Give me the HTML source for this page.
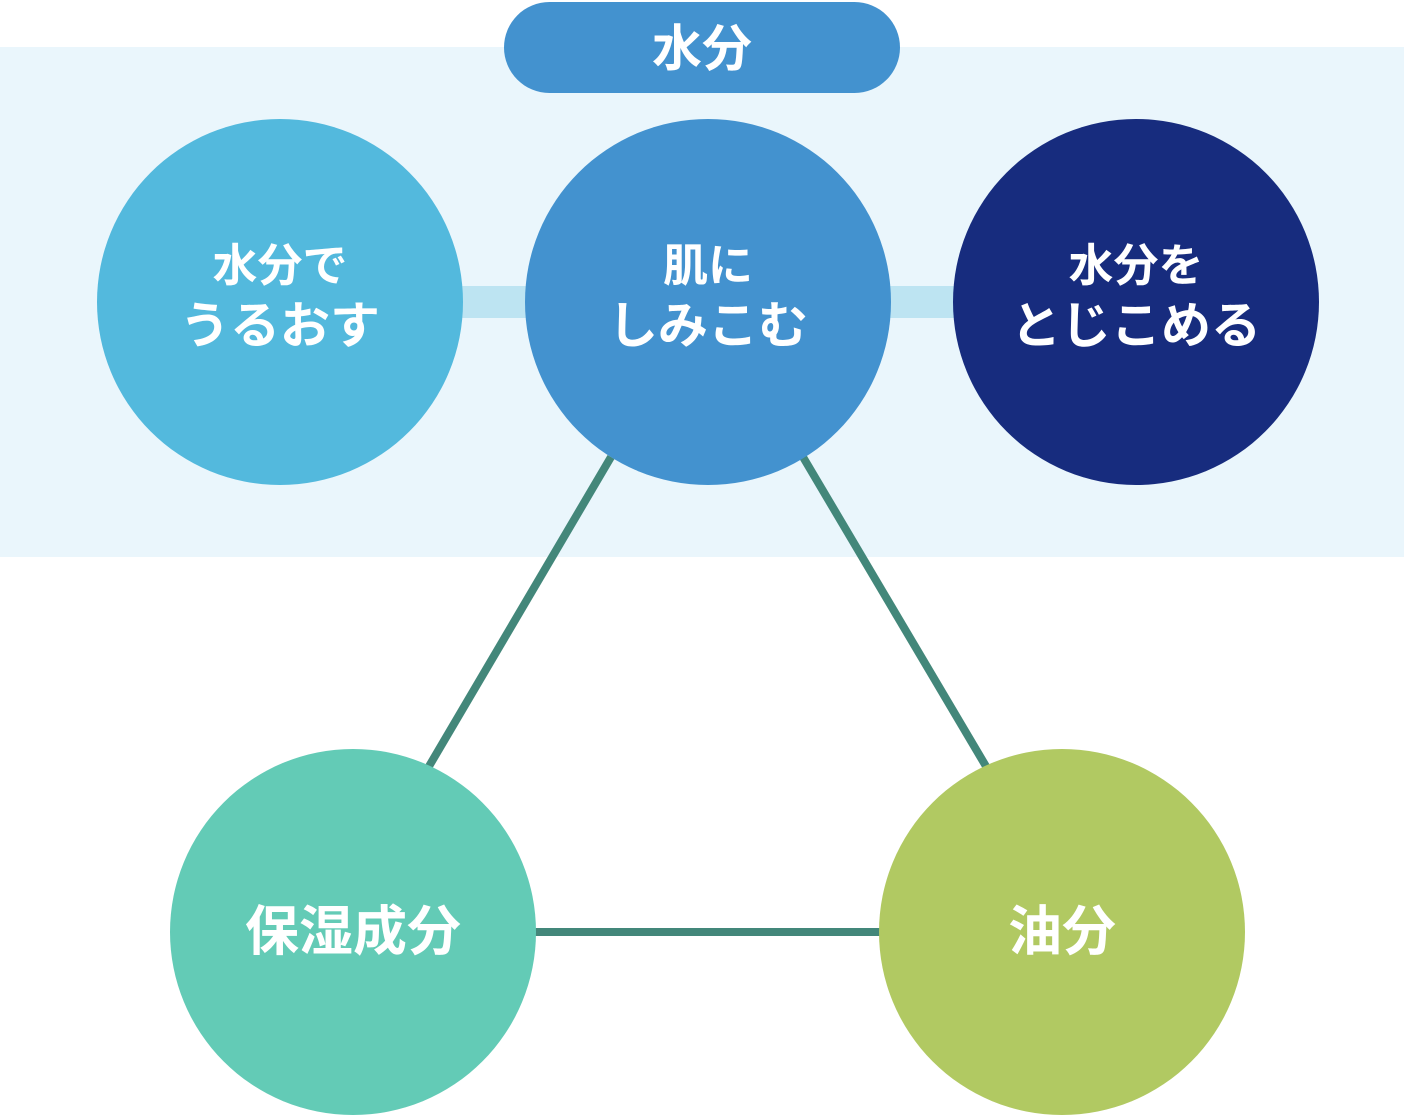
<!DOCTYPE html>
<html><head><meta charset="utf-8"><style>
html,body{margin:0;padding:0;background:#fff;}
svg{display:block;}
text{font-family:"Liberation Sans","Noto Sans CJK JP",sans-serif;font-weight:bold;fill:#fff;text-anchor:middle;}
</style></head><body>
<svg width="1404" height="1115" viewBox="0 0 1404 1115" xmlns="http://www.w3.org/2000/svg">
<rect x="0" y="47" width="1404" height="510" fill="#eaf6fc"/>
<rect x="504" y="2" width="396" height="91" rx="45.5" fill="#4392cf"/>
<text x="702" y="66" font-size="50">水分</text>
<rect x="455" y="286" width="80" height="32" fill="#bde4f2"/>
<rect x="880" y="286" width="80" height="32" fill="#bde4f2"/>
<line x1="611" y1="457" x2="428" y2="768" stroke="#43877a" stroke-width="8"/>
<line x1="803" y1="457" x2="987" y2="768" stroke="#43877a" stroke-width="8"/>
<line x1="530" y1="932" x2="885" y2="932" stroke="#43877a" stroke-width="8"/>
<circle cx="280" cy="302" r="183" fill="#53b9dd"/>
<circle cx="708" cy="302" r="183" fill="#4392cf"/>
<circle cx="1136" cy="302" r="183" fill="#172c7e"/>
<circle cx="353" cy="932" r="183" fill="#63cbb6"/>
<circle cx="1062" cy="932" r="183" fill="#b1c962"/>
<text x="280" y="281" font-size="45">水分で</text>
<text x="280" y="343" font-size="50">うるおす</text>
<text x="708" y="281" font-size="45">肌に</text>
<text x="708" y="343" font-size="50">しみこむ</text>
<text x="1136" y="281" font-size="45">水分を</text>
<text x="1136" y="343" font-size="50">とじこめる</text>
<text x="353" y="950" font-size="54">保湿成分</text>
<text x="1062" y="950" font-size="54">油分</text>
</svg>
</body></html>
